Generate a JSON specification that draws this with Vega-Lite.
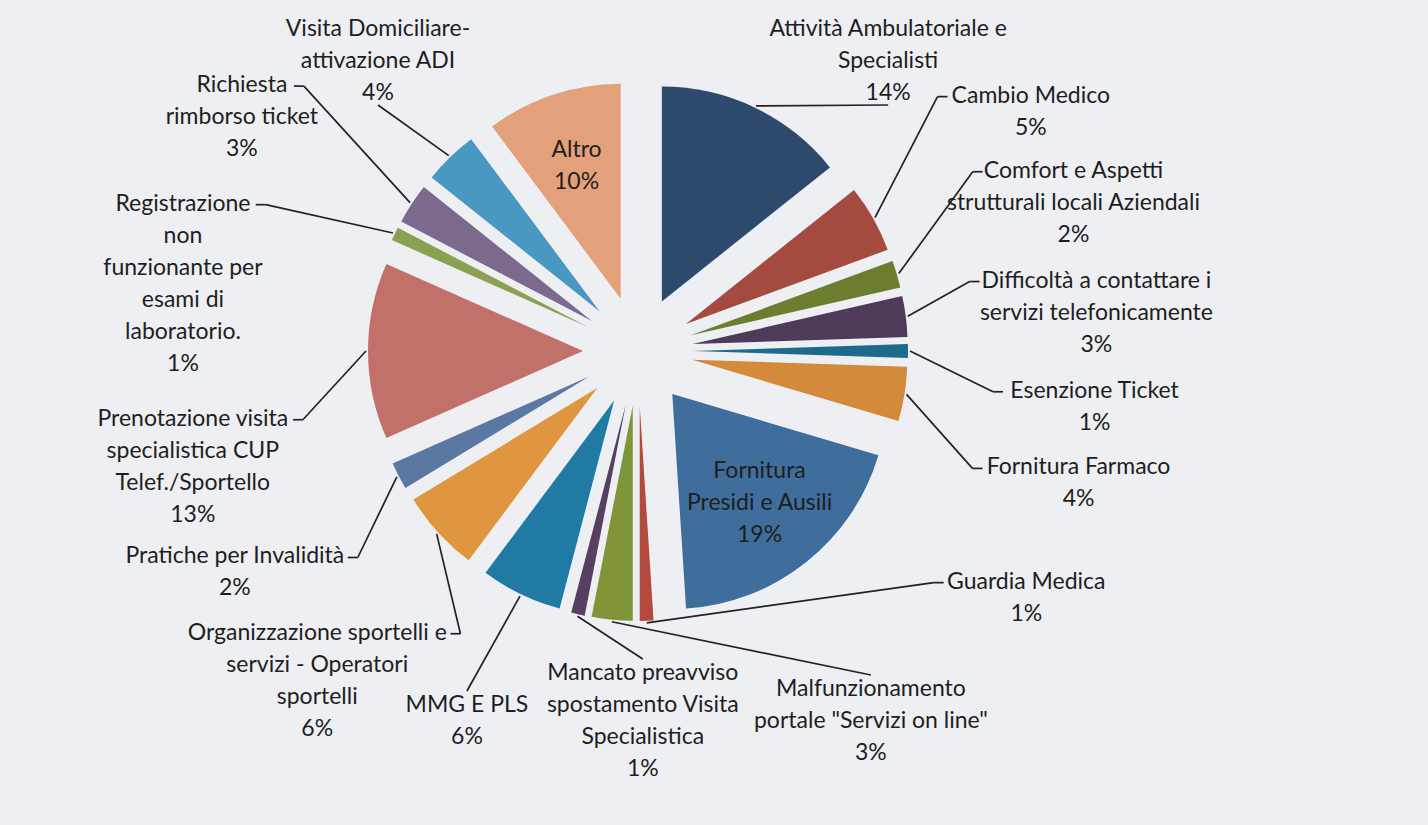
{
  "$schema": "https://vega.github.io/schema/vega-lite/v6.json",
  "width": 1428,
  "height": 825,
  "autosize": "none",
  "padding": 0,
  "background": "#edeff2",
  "config": {"view": {"stroke": null}},
  "data": {
    "values": [
      {"category": "Attività Ambulatoriale e\nSpecialisti", "pct": 14},
      {"category": "Cambio Medico", "pct": 5},
      {"category": "Comfort e Aspetti\nstrutturali locali Aziendali", "pct": 2},
      {"category": "Difficoltà a contattare i\nservizi telefonicamente", "pct": 3},
      {"category": "Esenzione Ticket", "pct": 1},
      {"category": "Fornitura Farmaco", "pct": 4},
      {"category": "Fornitura\nPresidi e Ausili", "pct": 19},
      {"category": "Guardia Medica", "pct": 1},
      {"category": "Malfunzionamento\nportale \"Servizi on line\"", "pct": 3},
      {"category": "Mancato preavviso\nspostamento Visita\nSpecialistica", "pct": 1},
      {"category": "MMG E PLS", "pct": 6},
      {"category": "Organizzazione sportelli e\nservizi - Operatori\nsportelli", "pct": 6},
      {"category": "Pratiche per Invalidità", "pct": 2},
      {"category": "Prenotazione visita\nspecialistica CUP\nTelef./Sportello", "pct": 13},
      {"category": "Registrazione\nnon\nfunzionante per\nesami di\nlaboratorio.", "pct": 1},
      {"category": "Richiesta\nrimborso ticket", "pct": 3},
      {"category": "Visita Domiciliare-\nattivazione ADI", "pct": 4},
      {"category": "Altro", "pct": 10}
    ]
  },
  "transform": [
    {"window": [{"op": "row_number", "as": "idx"}]},
    {"window": [{"op": "sum", "field": "pct", "as": "cum"}], "sort": [{"field": "idx"}], "frame": [null, 0]},
    {"joinaggregate": [{"op": "sum", "field": "pct", "as": "total"}]},
    {"calculate": "2*PI*(datum.cum-datum.pct)/datum.total", "as": "a0"},
    {"calculate": "2*PI*datum.cum/datum.total", "as": "a1"},
    {"calculate": "(datum.a0+datum.a1)/2", "as": "mid"},
    {"calculate": "sin(datum.mid)", "as": "s"},
    {"calculate": "cos(datum.mid)", "as": "c"},
    {"calculate": "55*datum.s", "as": "cx"},
    {"calculate": "-55*datum.c", "as": "cy"},
    {"calculate": "split(datum.category,'\\n')", "as": "lines"},
    {"calculate": "datum.category+'\\n'+datum.pct+'%'", "as": "label"},
    {"calculate": "length(datum.lines)+1", "as": "nl"},
    {"calculate": "23*(0.28*length(replace(datum.lines[0]||'', regexp('[^iljtfrI .,:/\"-]','g'), '')) + 0.85*length(replace(datum.lines[0]||'', regexp('[^mwMW%]','g'), '')) + 0.61*length(replace(datum.lines[0]||'', regexp('[^A-HJ-LN-VX-Z]','g'), '')) + 0.51*length(replace(datum.lines[0]||'', regexp('[iljtfrI .,:/\"mwMW%A-Z-]','g'), '')))", "as": "wl0"},
    {"calculate": "23*(0.28*length(replace(datum.lines[1]||'', regexp('[^iljtfrI .,:/\"-]','g'), '')) + 0.85*length(replace(datum.lines[1]||'', regexp('[^mwMW%]','g'), '')) + 0.61*length(replace(datum.lines[1]||'', regexp('[^A-HJ-LN-VX-Z]','g'), '')) + 0.51*length(replace(datum.lines[1]||'', regexp('[iljtfrI .,:/\"mwMW%A-Z-]','g'), '')))", "as": "wl1"},
    {"calculate": "23*(0.28*length(replace(datum.lines[2]||'', regexp('[^iljtfrI .,:/\"-]','g'), '')) + 0.85*length(replace(datum.lines[2]||'', regexp('[^mwMW%]','g'), '')) + 0.61*length(replace(datum.lines[2]||'', regexp('[^A-HJ-LN-VX-Z]','g'), '')) + 0.51*length(replace(datum.lines[2]||'', regexp('[iljtfrI .,:/\"mwMW%A-Z-]','g'), '')))", "as": "wl2"},
    {"calculate": "23*(0.28*length(replace(datum.lines[3]||'', regexp('[^iljtfrI .,:/\"-]','g'), '')) + 0.85*length(replace(datum.lines[3]||'', regexp('[^mwMW%]','g'), '')) + 0.61*length(replace(datum.lines[3]||'', regexp('[^A-HJ-LN-VX-Z]','g'), '')) + 0.51*length(replace(datum.lines[3]||'', regexp('[iljtfrI .,:/\"mwMW%A-Z-]','g'), '')))", "as": "wl3"},
    {"calculate": "23*(0.28*length(replace(datum.lines[4]||'', regexp('[^iljtfrI .,:/\"-]','g'), '')) + 0.85*length(replace(datum.lines[4]||'', regexp('[^mwMW%]','g'), '')) + 0.61*length(replace(datum.lines[4]||'', regexp('[^A-HJ-LN-VX-Z]','g'), '')) + 0.51*length(replace(datum.lines[4]||'', regexp('[iljtfrI .,:/\"mwMW%A-Z-]','g'), '')))", "as": "wl4"},
    {"calculate": "max(datum.wl0, datum.wl1, datum.wl2, datum.wl3, datum.wl4, 40) + 6", "as": "w"},
    {"calculate": "datum.nl*32", "as": "h"},
    {"calculate": "(datum.a1-datum.a0)*150 >= datum.w", "as": "inside"},
    {"calculate": "datum.cx + 140*datum.s", "as": "ix"},
    {"calculate": "datum.cy - 140*datum.c - (datum.nl-1)*16", "as": "iy"},
    {"calculate": "acos(290/460)", "as": "pT"},
    {"calculate": "acos(370/460)", "as": "pB"},
    {"calculate": "460*sin(datum.pT)", "as": "xT"},
    {"calculate": "460*sin(datum.pB)", "as": "xB"},
    {"calculate": "460*(PI - datum.pT - datum.pB)", "as": "L2"},
    {"calculate": "2*datum.xT + 2*datum.L2 + 2*datum.xB", "as": "P"},
    {"calculate": "datum.c >= 290/460 ? 0 : (datum.c <= -370/460 ? 2 : (datum.s > 0 ? 1 : 3))", "as": "seg0"},
    {"calculate": "datum.seg0 == 0 ? (290*datum.s/datum.c >= 0 ? 290*datum.s/datum.c : datum.P + 290*datum.s/datum.c) : (datum.seg0 == 2 ? datum.xT + datum.L2 + datum.xB + 370*datum.s/datum.c : (datum.seg0 == 1 ? datum.xT + 460*(datum.mid - datum.pT) : datum.xT + datum.L2 + 2*datum.xB + 460*(datum.mid - PI - datum.pB)))", "as": "u0"},
    {"calculate": "(datum.seg0 == 0 || datum.seg0 == 2) ? datum.w : min(datum.w/max(abs(datum.c),0.01), datum.h/max(abs(datum.s),0.01))", "as": "ext"},
    {"calculate": "datum.inside ? 0 : datum.ext/2 + 7", "as": "e"},
    {"window": [{"op": "sum", "field": "e", "as": "Einc"}], "sort": [{"field": "idx"}], "frame": [null, 0]},
    {"calculate": "2*datum.Einc - datum.e", "as": "C"},
    {"calculate": "datum.inside ? null : datum.C", "as": "Cout"},
    {"joinaggregate": [{"op": "min", "field": "Cout", "as": "Cfirst"}, {"op": "max", "field": "Cout", "as": "Clast"}]},
    {"calculate": "datum.inside ? -1e9 : datum.u0 - datum.C", "as": "Tf"},
    {"calculate": "datum.inside ? 1e9 : datum.u0 - datum.C", "as": "Tb"},
    {"window": [{"op": "max", "field": "Tf", "as": "Mf"}], "sort": [{"field": "idx"}], "frame": [null, 0]},
    {"window": [{"op": "min", "field": "Tb", "as": "Mb"}], "sort": [{"field": "idx"}], "frame": [0, null]},
    {"calculate": "datum.C + max(datum.Mf, 260 - datum.Cfirst)", "as": "uf"},
    {"calculate": "datum.C + min(datum.Mb, datum.P - 260 - datum.Clast)", "as": "ub"},
    {"calculate": "min(max(0.4*datum.uf + 0.6*datum.ub, 260 + datum.C - datum.Cfirst), datum.P - 260 - datum.Clast + datum.C)", "as": "u"},
    {"calculate": "datum.u < datum.xT ? 0 : (datum.u < datum.xT + datum.L2 ? 1 : (datum.u < datum.xT + datum.L2 + 2*datum.xB ? 2 : (datum.u < datum.xT + 2*datum.L2 + 2*datum.xB ? 3 : 4)))", "as": "seg"},
    {"calculate": "datum.seg == 1 ? datum.pT + (datum.u - datum.xT)/460 : (datum.seg == 3 ? PI + datum.pB + (datum.u - datum.xT - datum.L2 - 2*datum.xB)/460 : 0)", "as": "psi"},
    {"calculate": "datum.seg == 0 ? datum.u : (datum.seg == 2 ? datum.xB - (datum.u - datum.xT - datum.L2) : (datum.seg == 4 ? datum.u - datum.P : 460*sin(datum.psi)))", "as": "rx"},
    {"calculate": "(datum.seg == 0 || datum.seg == 4) ? -290 : (datum.seg == 2 ? 370 : -460*cos(datum.psi))", "as": "ry"},
    {"calculate": "clamp(datum.rx, -638 + datum.w/2 + 4, 790 - datum.w/2 - 4)", "as": "lx"},
    {"calculate": "clamp(datum.ry, -351 + datum.h/2 + 2, 474 - datum.h/2 - 2)", "as": "ly"},
    {"calculate": "datum.ly - (datum.nl-1)*16", "as": "ty"},
    {"calculate": "(datum.seg == 1 || datum.seg == 3) && abs(sin(datum.psi)) > 0.5", "as": "side"},
    {"calculate": "(datum.seg == 0 || datum.seg == 4) || ((datum.seg == 1 || datum.seg == 3) && !datum.side && cos(datum.psi) > 0)", "as": "above"},
    {"calculate": "datum.side ? (sin(datum.psi) > 0 ? datum.lx - datum.wl0/2 - 6 : datum.lx + datum.wl0/2 + 6) : datum.lx", "as": "ax"},
    {"calculate": "datum.side ? datum.ly - datum.h/2 + 17 : (datum.above ? datum.ly + datum.h/2 - 4 : datum.ly - datum.h/2 + 2)", "as": "ay"},
    {"calculate": "datum.side ? datum.ax + (sin(datum.psi) > 0 ? -10 : 10) : datum.ax", "as": "ex"},
    {"calculate": "datum.ay", "as": "ey"},
    {"calculate": "272*datum.s", "as": "qx"},
    {"calculate": "-272*datum.c", "as": "qy"},
    {"calculate": "sqrt(pow(datum.ex-datum.qx,2)+pow(datum.ey-datum.qy,2))", "as": "dist"}
  ],
  "layer": [
    {
      "mark": {"type": "arc", "radius": 215},
      "encoding": {
        "x": {"field": "cx", "type": "quantitative", "scale": {"domain": [-638, 790], "nice": false, "zero": false}, "axis": null},
        "y": {"field": "cy", "type": "quantitative", "scale": {"domain": [-351, 474], "nice": false, "zero": false, "reverse": true}, "axis": null},
        "theta": {"field": "a0", "type": "quantitative", "stack": null, "scale": {"domain": [0, 6.283185307], "range": [0, 6.283185307]}},
        "theta2": {"field": "a1"},
        "color": {
          "field": "category",
          "type": "nominal",
          "legend": null,
          "scale": {
            "domain": [
              "Attività Ambulatoriale e\nSpecialisti",
              "Cambio Medico",
              "Comfort e Aspetti\nstrutturali locali Aziendali",
              "Difficoltà a contattare i\nservizi telefonicamente",
              "Esenzione Ticket",
              "Fornitura Farmaco",
              "Fornitura\nPresidi e Ausili",
              "Guardia Medica",
              "Malfunzionamento\nportale \"Servizi on line\"",
              "Mancato preavviso\nspostamento Visita\nSpecialistica",
              "MMG E PLS",
              "Organizzazione sportelli e\nservizi - Operatori\nsportelli",
              "Pratiche per Invalidità",
              "Prenotazione visita\nspecialistica CUP\nTelef./Sportello",
              "Registrazione\nnon\nfunzionante per\nesami di\nlaboratorio.",
              "Richiesta\nrimborso ticket",
              "Visita Domiciliare-\nattivazione ADI",
              "Altro"
            ],
            "range": [
              "#2d4a6c", "#a44a3f", "#6b7d2f", "#4e3a59", "#1d6b8a", "#d38a3a",
              "#3f6d9c", "#b4493e", "#7f9537", "#563f60", "#1f7ba4", "#df963f",
              "#5a78a2", "#c2716a", "#8aa153", "#7b6a8b", "#4898c2", "#e3a17b"
            ]
          }
        }
      }
    },
    {
      "transform": [{"filter": "!datum.inside && datum.dist > 20"}],
      "mark": {"type": "rule", "color": "#222222", "strokeWidth": 1.7},
      "encoding": {
        "x": {"field": "qx", "type": "quantitative"},
        "y": {"field": "qy", "type": "quantitative"},
        "x2": {"field": "ex"},
        "y2": {"field": "ey"}
      }
    },
    {
      "transform": [{"filter": "!datum.inside && datum.dist > 20 && datum.side"}],
      "mark": {"type": "rule", "color": "#222222", "strokeWidth": 1.7},
      "encoding": {
        "x": {"field": "ex", "type": "quantitative"},
        "y": {"field": "ey", "type": "quantitative"},
        "x2": {"field": "ax"},
        "y2": {"field": "ay"}
      }
    },
    {
      "transform": [{"filter": "!datum.inside"}],
      "mark": {"type": "text", "align": "center", "baseline": "middle", "lineBreak": "\n", "lineHeight": 32, "font": "Lato", "fontSize": 23, "color": "#1e1e1e"},
      "encoding": {
        "x": {"field": "lx", "type": "quantitative"},
        "y": {"field": "ty", "type": "quantitative"},
        "text": {"field": "label"}
      }
    },
    {
      "transform": [{"filter": "datum.inside"}],
      "mark": {"type": "text", "align": "center", "baseline": "middle", "lineBreak": "\n", "lineHeight": 32, "font": "Lato", "fontSize": 23, "color": "#1e1e1e"},
      "encoding": {
        "x": {"field": "ix", "type": "quantitative"},
        "y": {"field": "iy", "type": "quantitative"},
        "text": {"field": "label"}
      }
    }
  ]
}
